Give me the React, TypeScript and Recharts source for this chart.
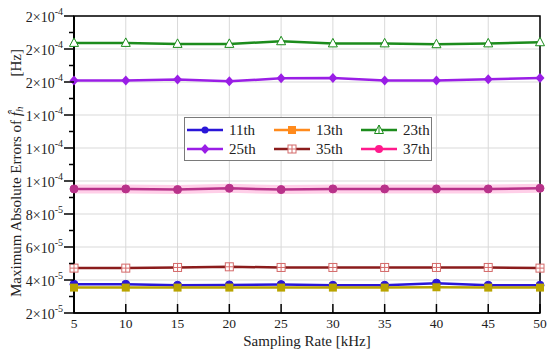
import React from 'react';
import { LineChart, Line, XAxis, YAxis, CartesianGrid, ReferenceArea } from 'recharts';

const samplingRates = [5, 10, 15, 20, 25, 30, 35, 40, 45, 50];
const err11 = [3.74e-5, 3.74e-5, 3.68e-5, 3.70e-5, 3.72e-5, 3.68e-5, 3.68e-5, 3.81e-5, 3.68e-5, 3.68e-5];
const err13 = [3.54e-5, 3.54e-5, 3.54e-5, 3.54e-5, 3.54e-5, 3.54e-5, 3.54e-5, 3.56e-5, 3.54e-5, 3.54e-5];
const err23 = [1.837e-4, 1.837e-4, 1.831e-4, 1.831e-4, 1.847e-4, 1.834e-4, 1.834e-4, 1.829e-4, 1.834e-4, 1.841e-4];
const err25 = [1.609e-4, 1.609e-4, 1.615e-4, 1.604e-4, 1.622e-4, 1.624e-4, 1.609e-4, 1.609e-4, 1.616e-4, 1.624e-4];
const err35 = [4.72e-5, 4.72e-5, 4.76e-5, 4.80e-5, 4.76e-5, 4.76e-5, 4.76e-5, 4.76e-5, 4.76e-5, 4.72e-5];
const err37 = [9.52e-5, 9.52e-5, 9.48e-5, 9.56e-5, 9.48e-5, 9.52e-5, 9.52e-5, 9.52e-5, 9.52e-5, 9.56e-5];

const xTicks = [5, 10, 15, 20, 25, 30, 35, 40, 45, 50];
const yMajorTicks = [2e-5, 4e-5, 6e-5, 8e-5, 1e-4, 1.2e-4, 1.4e-4, 1.6e-4, 1.8e-4, 2e-4];
const yMinorTicks = [3e-5, 5e-5, 7e-5, 9e-5, 1.1e-4, 1.3e-4, 1.5e-4, 1.7e-4, 1.9e-4];
const yTickMantissas = ['2', '4', '6', '8', '1', '1', '1', '2', '2', '2'];
const yTickExponents = ['-5', '-5', '-5', '-5', '-4', '-4', '-4', '-4', '-4', '-4'];

const seriesNames = ['11th', '13th', '23th', '25th', '35th', '37th'];

const data = samplingRates.map((x, i) => ({
  x,
  h11: err11[i],
  h13: err13[i],
  h23: err23[i],
  h25: err25[i],
  h35: err35[i],
  h37: err37[i],
}));

const allYTicks = [...yMajorTicks, ...yMinorTicks].sort((a, b) => a - b);

const FONT = '"Liberation Serif", "Times New Roman", serif';

const C11 = '#2a16d8';
const C13 = '#b9a400';
const C13L = '#ff8a1c';
const C23 = '#1c8c1c';
const C25 = '#9a1ee6';
const C35 = '#8b1c1c';
const C35M = '#d46a6a';
const C37 = '#b8328a';
const C37L = '#ff1a8c';

type DotP = { cx?: number; cy?: number; index?: number };

const circleDot = (color: string, r: number) => (p: DotP) =>
  p.cx == null || p.cy == null ? <g key={p.index} /> : (
    <circle key={p.index} cx={p.cx} cy={p.cy} r={r} fill={color} stroke={color} strokeWidth={1} />
  );

const squareDot = (fill: string) => (p: DotP) =>
  p.cx == null || p.cy == null ? <g key={p.index} /> : (
    <rect key={p.index} x={p.cx - 4} y={p.cy - 4} width={8} height={8} fill={fill} />
  );

const triangleDot = (p: DotP) =>
  p.cx == null || p.cy == null ? <g key={p.index} /> : (
    <polygon
      key={p.index}
      points={`${p.cx},${p.cy - 5} ${p.cx - 4.5},${p.cy + 3.5} ${p.cx + 4.5},${p.cy + 3.5}`}
      fill="#fff"
      stroke={C23}
      strokeWidth={1}
    />
  );

const diamondDot = (p: DotP) =>
  p.cx == null || p.cy == null ? <g key={p.index} /> : (
    <polygon
      key={p.index}
      points={`${p.cx},${p.cy - 5} ${p.cx + 4.5},${p.cy} ${p.cx},${p.cy + 5} ${p.cx - 4.5},${p.cy}`}
      fill={C25}
    />
  );

const boxCrossDot = (p: DotP) =>
  p.cx == null || p.cy == null ? <g key={p.index} /> : (
    <g key={p.index}>
      <rect x={p.cx - 4} y={p.cy - 4} width={8} height={8} fill="#fff" stroke={C35M} strokeWidth={1} />
      <line x1={p.cx} y1={p.cy - 4} x2={p.cx} y2={p.cy + 4} stroke={C35M} strokeWidth={1} />
      <line x1={p.cx - 4} y1={p.cy} x2={p.cx + 4} y2={p.cy} stroke={C35M} strokeWidth={1} />
    </g>
  );

const XTick = (props: any) => {
  const { x, y, payload } = props;
  return (
    <g>
      <line x1={x} y1={y} x2={x} y2={y - 9} stroke="#000" strokeWidth={1.5} />
      <text x={x} y={y + 15} textAnchor="middle" fontFamily={FONT} fontSize={13.5} fill="#222">
        {payload.value}
      </text>
    </g>
  );
};

const YTick = (props: any) => {
  const { x, y, payload } = props;
  const v = payload.value as number;
  const idx = yMajorTicks.findIndex((m) => Math.abs(m - v) < 1e-12);
  if (idx < 0) {
    return <line x1={x} y1={y} x2={x - 5} y2={y} stroke="#000" strokeWidth={1.5} />;
  }
  return (
    <g>
      <line x1={x} y1={y} x2={x - 10} y2={y} stroke="#000" strokeWidth={1.5} />
      <text x={x - 11} y={y + 6} textAnchor="end" fontFamily={FONT} fontSize={14} fill="#222">
        <tspan>{yTickMantissas[idx]}{'\u00d7'}10</tspan>
        <tspan dy={-7} fontSize={10}>{yTickExponents[idx]}</tspan>
      </text>
    </g>
  );
};

const YLabel = (props: any) => {
  const cx = 16;
  const cy = 297;
  return (
    <text
      x={cx}
      y={cy}
      transform={`rotate(-90 ${cx} ${cy})`}
      textAnchor="start"
      dominantBaseline="central"
      fontFamily={FONT}
      fontSize={15}
      fill="#222"
    >
      <tspan>Maximum Absolute Errors of </tspan>
      <tspan fontStyle="italic">f{'\u0302'}</tspan>
      <tspan fontStyle="italic" fontSize={11} dy={3}>h</tspan>
      <tspan dy={-3} dx={30}>[Hz]</tspan>
    </text>
  );
};

const XLabel = (props: any) => {
  const vb = props.viewBox || { x: 74, y: 313, width: 466, height: 30 };
  return (
    <text
      x={vb.x + vb.width / 2}
      y={346}
      textAnchor="middle"
      fontFamily={FONT}
      fontSize={15}
      fill="#222"
    >
      Sampling Rate [kHz]
    </text>
  );
};

const legendIcons: Record<string, (cx: number, cy: number) => React.ReactNode> = {
  '11th': (cx, cy) => <circle cx={cx} cy={cy} r={3.5} fill={C11} />,
  '13th': (cx, cy) => <rect x={cx - 4} y={cy - 4} width={8} height={8} fill={C13L} />,
  '23th': (cx, cy) => (
    <g>
      <polygon points={`${cx},${cy - 5} ${cx - 4.5},${cy + 3.5} ${cx + 4.5},${cy + 3.5}`} fill="#fff" stroke={C23} />
      <line x1={cx} y1={cy - 5} x2={cx} y2={cy + 3.5} stroke={C23} />
    </g>
  ),
  '25th': (cx, cy) => <polygon points={`${cx},${cy - 5} ${cx + 4.5},${cy} ${cx},${cy + 5} ${cx - 4.5},${cy}`} fill={C25} />,
  '35th': (cx, cy) => (
    <g>
      <rect x={cx - 4} y={cy - 4} width={8} height={8} fill="#fff" stroke={C35M} />
      <line x1={cx} y1={cy - 4} x2={cx} y2={cy + 4} stroke={C35M} />
      <line x1={cx - 4} y1={cy} x2={cx + 4} y2={cy} stroke={C35M} />
    </g>
  ),
  '37th': (cx, cy) => <circle cx={cx} cy={cy} r={4} fill={C37L} />,
};

const legendColors: Record<string, string> = {
  '11th': C11,
  '13th': C13L,
  '23th': C23,
  '25th': C25,
  '35th': C35,
  '37th': C37L,
};

const Legend = () => (
  <div
    style={{
      position: 'absolute',
      left: 184,
      top: 117,
      width: 246,
      height: 42,
      border: '1px solid #7a7a7a',
      background: '#fff',
      fontFamily: FONT,
      fontSize: 15,
      color: '#222',
    }}
  >
    {seriesNames.map((name, i) => {
      const col = i % 3;
      const row = Math.floor(i / 3);
      const left = 2 + col * 87;
      const top = 3 + row * 19;
      return (
        <div key={name} style={{ position: 'absolute', left, top, height: 18, display: 'flex', alignItems: 'center' }}>
          <svg width={36} height={12} style={{ display: 'block' }}>
            <line x1={0} y1={6} x2={36} y2={6} stroke={legendColors[name]} strokeWidth={2.5} />
            {legendIcons[name](18, 6)}
          </svg>
          <span style={{ marginLeft: 6, lineHeight: '18px' }}>{name}</span>
        </div>
      );
    })}
  </div>
);

export default function App() {
  return (
    <div style={{ position: 'absolute', left: 0, top: 0, width: 550, height: 356, background: '#fff' }}>
      <LineChart width={550} height={356} data={data} margin={{ top: 16, right: 10, bottom: 13, left: 0 }}>
        <CartesianGrid
          stroke="#d9d9d9"
          strokeWidth={1}
          horizontalValues={yMajorTicks}
          verticalValues={xTicks}
        />
        <XAxis
          dataKey="x"
          type="number"
          domain={[5, 50]}
          ticks={xTicks}
          interval={0}
          height={30}
          tickSize={0}
          tickMargin={0}
          tickLine={false}
          tick={<XTick />}
          axisLine={{ stroke: '#000', strokeWidth: 1.5 }}
          label={<XLabel />}
        />
        <YAxis
          type="number"
          domain={[2e-5, 2e-4]}
          ticks={allYTicks}
          interval={0}
          width={74}
          tickSize={0}
          tickMargin={0}
          tickLine={false}
          tick={<YTick />}
          axisLine={{ stroke: '#000', strokeWidth: 2 }}
          label={<YLabel />}
          allowDataOverflow
        />
        <ReferenceArea
          x1={5}
          x2={50}
          y1={2e-5}
          y2={2e-4}
          fill="none"
          fillOpacity={0}
          stroke="#000"
          strokeWidth={1.5}
          ifOverflow="visible"
        />
        <Line dataKey="h37" stroke="#ffcfe8" strokeWidth={9} dot={false} isAnimationActive={false} legendType="none" />
        <Line dataKey="h11" stroke={C11} strokeWidth={2.5} dot={circleDot(C11, 4)} isAnimationActive={false} />
        <Line dataKey="h13" stroke={C13} strokeWidth={2.5} dot={squareDot(C13)} isAnimationActive={false} />
        <Line dataKey="h35" stroke={C35} strokeWidth={2.5} dot={boxCrossDot} isAnimationActive={false} />
        <Line dataKey="h37" stroke={C37} strokeWidth={2.5} dot={circleDot(C37, 4)} isAnimationActive={false} />
        <Line dataKey="h25" stroke={C25} strokeWidth={2.5} dot={diamondDot} isAnimationActive={false} />
        <Line dataKey="h23" stroke={C23} strokeWidth={2.5} dot={triangleDot} isAnimationActive={false} />
      </LineChart>
      <Legend />
    </div>
  );
}
